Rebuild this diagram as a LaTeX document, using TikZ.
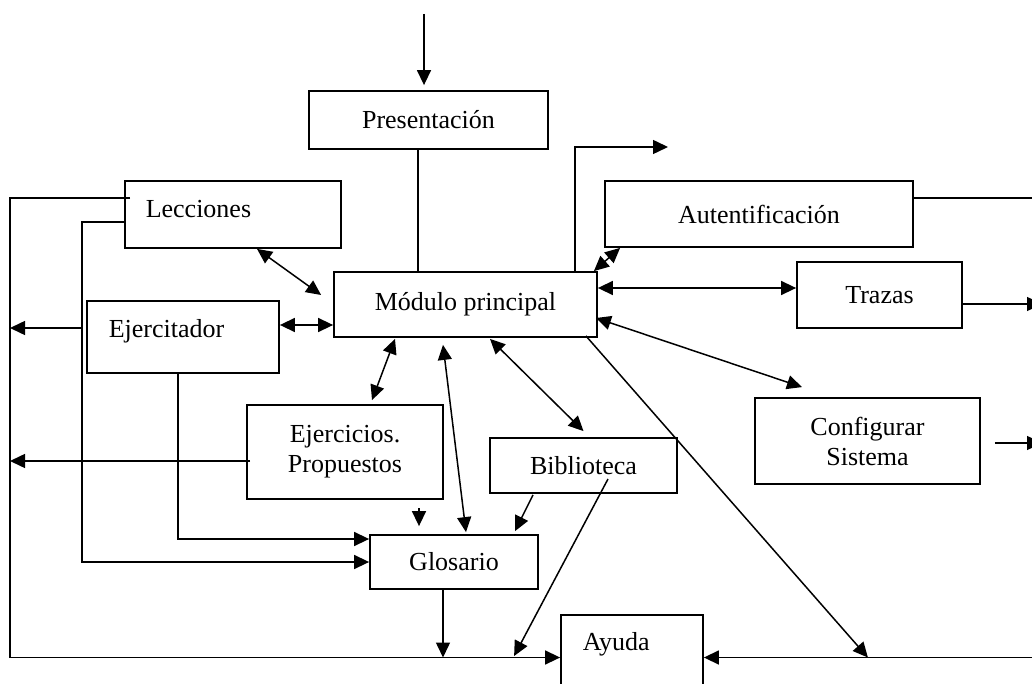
\documentclass[tikz,border=0pt]{standalone}
\usepackage{fontspec}
\setmainfont{Liberation Serif}
\usetikzlibrary{arrows.meta}
\begin{document}
\begin{tikzpicture}[x=1pt,y=-1pt,
  line width=1.5pt,
  box/.style={draw, line width=1.8pt, inner sep=0pt, align=center,
    font=\fontsize{26}{30}\selectfont},
  lbl/.style={inner sep=0pt, font=\fontsize{26}{30}\selectfont},
  tip/.style={-{Triangle[length=15pt,width=14pt]}},
  both/.style={{Triangle[length=15pt,width=14pt]}-{Triangle[length=15pt,width=14pt]}},
]
\useasboundingbox (0,0) rectangle (1032,684);
\clip (0,0) rectangle (1032,684);

% modules
\node[box, minimum width=239pt, minimum height=58pt] (pres) at (428.5,120) {Presentación};
\node[box, minimum width=216pt, minimum height=67pt] (lec) at (233,214.5) {};
\node[lbl, anchor=west] (lect) at (145,209) {Lecciones};
\node[box, minimum width=263pt, minimum height=65pt] (mod) at (465.5,304.5) {Módulo principal};
\node[box, minimum width=192pt, minimum height=72pt] (ejer) at (183,337) {};
\node[lbl, anchor=west] (ejert) at (108,331) {Ejercitador};
\node[box, minimum width=308pt, minimum height=66pt] (aut) at (759,214) {Autentificación};
\node[box, minimum width=165pt, minimum height=66pt] (tra) at (879.5,295) {Trazas};
\node[box, minimum width=196pt, minimum height=94pt] (ejp) at (345,452) {Ejercicios.\\Propuestos};
\node[box, minimum width=187pt, minimum height=55pt] (bib) at (583.5,465.5) {Biblioteca};
\node[box, minimum width=225pt, minimum height=86pt] (cfg) at (867.5,441) {Configurar\\Sistema};
\node[box, minimum width=168pt, minimum height=54pt] (glo) at (454,562) {Glosario};
\node[box, minimum width=142pt, minimum height=85pt] (ayu) at (632,657.5) {};
\node[lbl, anchor=west] (ayut) at (582,644) {Ayuda};

% free ends and rails
\coordinate (topin) at (424,14);
\coordinate (railL) at (10,657.5);
\coordinate (railM) at (82,562);
\coordinate (railR) at (1042,657.5);
\coordinate (outR) at (668,147);
\coordinate (sm) at (419,508);

% connectors
\draw[tip, shorten >=5pt] (topin) -- (topin |- pres.north);
\draw ([xshift=-10.5pt]pres.south) coordinate (b1) -- (b1 |- mod.north);
\draw[both] ([xshift=24pt]lec.south) -- ([shift={(-12pt,9.5pt)}]mod.west);
\draw[both] ([yshift=12pt]ejer.east) coordinate (d1) -- (d1 -| mod.west);
\draw[tip] ([shift={(6pt,16.5pt)}]lec.west) -| (railL) -- (ayu.west);
\draw[tip] ([yshift=-7.5pt]lec.west) -| (railM) -- (glo.west);
\path ([yshift=9pt]ejer.west) coordinate (g1);
\draw[tip] (g1 -| railM) -- (g1 -| railL);
\draw[tip] ([shift={(4pt,-9pt)}]ejp.west) coordinate (h1) -- (h1 -| railL);
\draw[tip] ([xshift=-5pt]ejer.south) |- ([yshift=23pt]glo.west);
\draw[tip, shorten >=8pt] (sm) -- (sm |- glo.north);
\draw[both] ([shift={(-22.5pt,-7pt)}]mod.south) -- ([shift={(12pt,2pt)}]glo.north);
\draw[both] ([shift={(-70.5pt,-1pt)}]mod.south) -- ([shift={(27pt,4pt)}]ejp.north);
\draw[both] ([shift={(24.5pt,-1pt)}]mod.south) -- ([yshift=6pt]bib.north);
\draw[tip] ([shift={(-50.5pt,-1pt)}]bib.south) -- ([shift={(61pt,3pt)}]glo.north);
\draw[tip] ([shift={(24.5pt,-13.5pt)}]bib.center) -- ([shift={(-46pt,1.5pt)}]ayu.west);
\draw[tip] ([xshift=-11pt]glo.south) coordinate (p1) -- (p1 |- ayu.west);
\draw[tip] ([shift={(-12pt,2pt)}]mod.south east) -- ([xshift=164pt]ayu.east);
\draw[tip] (railR) -- (ayu.east);
\draw ([yshift=16pt]aut.east) coordinate (s1) -- (s1 -| railR);
\draw[tip] ([yshift=-9pt]tra.east) coordinate (t1) -- (t1 -| railR);
\draw[tip] ([shift={(14pt,-2pt)}]cfg.east) coordinate (u1) -- (u1 -| railR);
\draw[tip] ([xshift=-23pt]mod.north east) |- (outR);
\draw[both] ([xshift=-4pt]mod.north east) -- ([xshift=16pt]aut.south west);
\draw[both] ([yshift=16.5pt]mod.east) coordinate (x1) -- (x1 -| tra.west);
\draw[both] ([shift={(-2pt,-13.5pt)}]mod.east) -- ([shift={(-65.5pt,10pt)}]cfg.north);
\end{tikzpicture}
\end{document}
